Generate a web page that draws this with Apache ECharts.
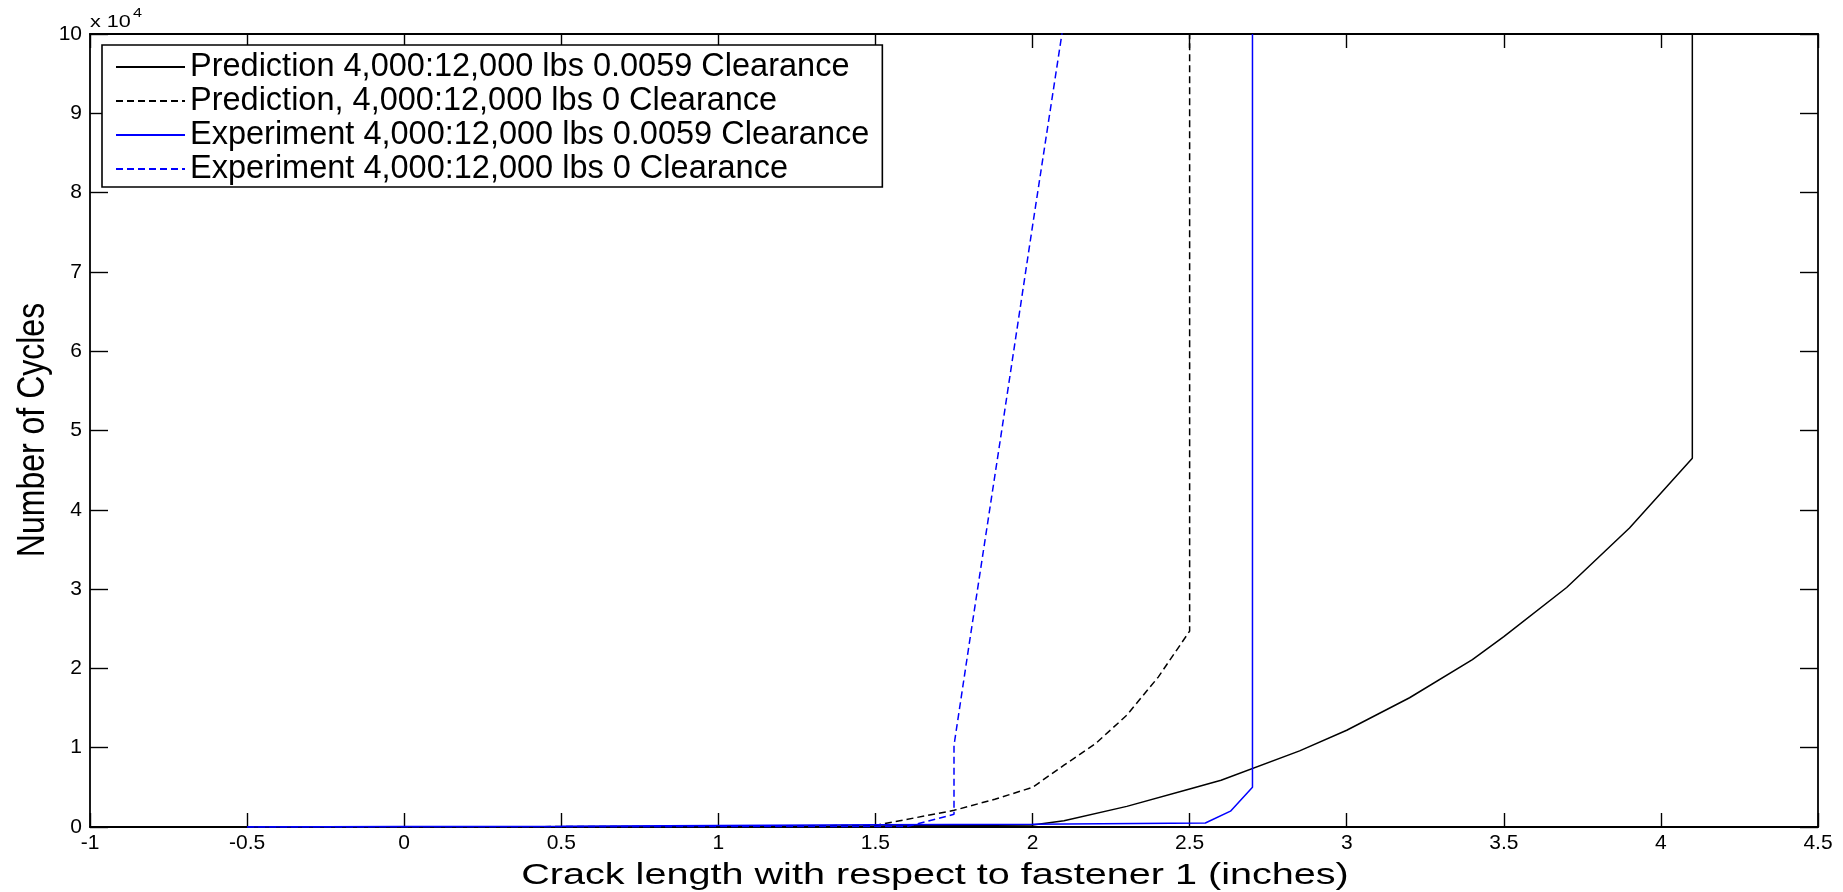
<!DOCTYPE html>
<html><head><meta charset="utf-8">
<script src="https://cdn.jsdelivr.net/npm/echarts@6/dist/echarts.min.js"></script>
<style>html,body{margin:0;padding:0;background:#fff}#c{width:1843px;height:892px}</style>
</head><body><div id="c"></div>
<script>
// Series names (legend)
const seriesNames = [
  'Prediction 4,000:12,000 lbs 0.0059 Clearance',
  'Prediction, 4,000:12,000 lbs 0 Clearance',
  'Experiment 4,000:12,000 lbs 0.0059 Clearance',
  'Experiment 4,000:12,000 lbs 0 Clearance'
];
// Prediction, 0.0059 clearance (black solid)
const predClrX = [-0.5, 0, 0.5, 1, 1.5, 2, 2.1, 2.3, 2.5, 2.6, 2.85, 3, 3.2, 3.4, 3.5, 3.7, 3.9, 4.1, 4.1];
const predClrY = [0, 10, 30, 60, 120, 250, 800, 2600, 4800, 5900, 9600, 12200, 16300, 21100, 24000, 30200, 37700, 46500, 100000];
// Prediction, 0 clearance (black dashed)
const predZeroX = [-0.5, 0, 0.5, 1, 1.5, 1.75, 1.88, 2.0, 2.1, 2.2, 2.3, 2.4, 2.5, 2.5];
const predZeroY = [0, 20, 50, 100, 200, 2100, 3500, 5000, 7800, 10500, 14100, 18900, 24700, 100000];
// Experiment, 0.0059 clearance (blue solid)
const expClrX = [-0.5, 0, 0.5, 1, 1.5, 2, 2.55, 2.63, 2.7, 2.7];
const expClrY = [0, 50, 100, 200, 280, 340, 500, 2000, 5000, 100000];
// Experiment, 0 clearance (blue dashed)
const expZeroX = [-0.5, 0, 0.5, 1, 1.5, 1.6, 1.75, 1.75, 1.8, 1.9, 2.0, 2.1];
const expZeroY = [0, 20, 40, 50, 50, 60, 1600, 10300, 23500, 49500, 75800, 101700];

const xTitle = 'Crack length with respect to fastener 1 (inches)';
const yTitle = 'Number of Cycles';

const zip = (xs, ys) => xs.map((x, i) => [x, ys[i]]);
const FONT = 'Liberation Sans, Arial, sans-serif';
const colors = ['#000000', '#000000', '#0000ff', '#0000ff'];
const dashes = ['solid', [7, 4], 'solid', [7, 4]];
const datasets = [zip(predClrX, predClrY), zip(predZeroX, predZeroY), zip(expClrX, expClrY), zip(expZeroX, expZeroY)];

const axisLine = { show: true, onZero: false, lineStyle: { color: '#000', width: 1.8 } };
const tickX = { show: true, inside: true, length: 14, lineStyle: { color: '#000', width: 1.4 } };
const tickY = { show: true, inside: true, length: 18, lineStyle: { color: '#000', width: 1.4 } };

const chart = echarts.init(document.getElementById('c'), null, { renderer: 'canvas' });
chart.setOption({
  animation: false,
  backgroundColor: '#fff',
  grid: { left: 90, right: 25, top: 34, bottom: 65, containLabel: false },
  xAxis: [
    { type: 'value', min: -1, max: 4.5, interval: 0.5, position: 'bottom',
      axisLine: axisLine, axisTick: tickX, splitLine: { show: false },
      axisLabel: { show: true, color: '#000', fontSize: 21, fontFamily: FONT, margin: 6 } },
    { type: 'value', min: -1, max: 4.5, interval: 0.5, position: 'top',
      axisLine: axisLine, axisTick: tickX, splitLine: { show: false },
      axisLabel: { show: false } }
  ],
  yAxis: [
    { type: 'value', min: 0, max: 100000, interval: 10000, position: 'left',
      axisLine: axisLine, axisTick: tickY, splitLine: { show: false },
      axisLabel: { show: true, color: '#000', fontSize: 21, fontFamily: FONT, margin: 8,
        formatter: v => String(Math.round(v / 10000)) } },
    { type: 'value', min: 0, max: 100000, interval: 10000, position: 'right',
      axisLine: axisLine, axisTick: tickY, splitLine: { show: false },
      axisLabel: { show: false } }
  ],
  legend: {
    orient: 'vertical', left: 102, top: 45,
    data: seriesNames,
    itemWidth: 69, itemHeight: 14, itemGap: 0,
    padding: [5, 13, 1, 13],
    borderColor: '#000', borderWidth: 1.6, backgroundColor: '#fff',
    itemStyle: { color: 'rgba(0,0,0,0)', borderColor: 'rgba(0,0,0,0)', borderWidth: 0, opacity: 0 },
    textStyle: { color: '#000', fontSize: 32.5, fontFamily: FONT, lineHeight: 34 },
    selectedMode: false
  },
  graphic: [
    { type: 'text', x: 90, y: 31, scaleX: 1.35,
      style: { text: 'x 10', fontSize: 16, fontFamily: FONT, fill: '#000', textAlign: 'left', textVerticalAlign: 'bottom', align: 'left', verticalAlign: 'bottom' } },
    { type: 'text', x: 133, y: 8, scaleX: 1.35,
      style: { text: '4', fontSize: 12, fontFamily: FONT, fill: '#000', textAlign: 'left', textVerticalAlign: 'top', align: 'left', verticalAlign: 'top' } },
    { type: 'text', x: 935, y: 876, scaleX: 1.32,
      style: { text: xTitle, fontSize: 30, fontFamily: FONT, fill: '#000', textAlign: 'center', textVerticalAlign: 'middle', align: 'center', verticalAlign: 'middle' } },
    { type: 'text', x: 33, y: 430, rotation: Math.PI / 2, scaleY: 1.2,
      style: { text: yTitle, fontSize: 32, fontFamily: FONT, fill: '#000', textAlign: 'center', textVerticalAlign: 'middle', align: 'center', verticalAlign: 'middle' } }
  ],
  series: seriesNames.map((name, i) => ({
    name: name, type: 'line', xAxisIndex: 0, yAxisIndex: 0,
    data: datasets[i], symbol: 'none', showSymbol: false, clip: true,
    lineStyle: { color: colors[i], width: 1.5, type: dashes[i] },
    itemStyle: { color: colors[i] },
    z: 2 + i
  }))
});
</script></body></html>
